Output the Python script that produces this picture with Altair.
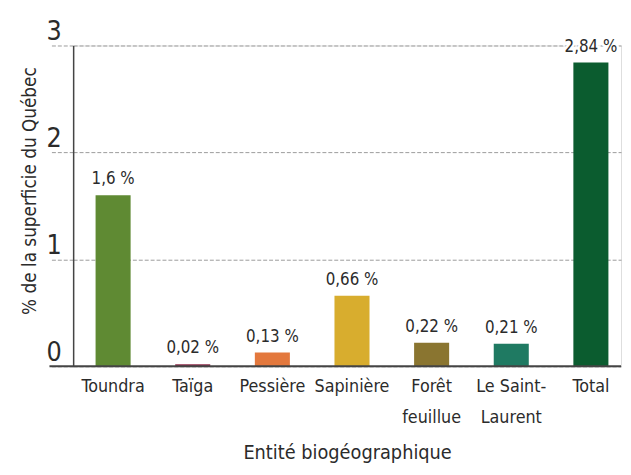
import altair as alt
import pandas as pd

categories = ["Toundra", "Taïga", "Pessière", "Sapinière", "Forêt|feuillue", "Le Saint-|Laurent", "Total"]
values = [1.6, 0.02, 0.13, 0.66, 0.22, 0.21, 2.84]
colors = ["#5f8a33", "#8c2a48", "#e3783d", "#d8ad2e", "#8a7530", "#1f7a62", "#0b5c2f"]
y_ticks = [0, 1, 2, 3]

df = pd.DataFrame({"cat": categories, "val": values, "color": colors})
df["label"] = [str(v).replace(".", ",") + " %" for v in values]

FONT = "'Liberation Sans Narrow', 'Arial Narrow', 'DejaVu Sans Condensed', sans-serif"
TXT = "#2b2b2b"

x_enc = alt.X(
    "cat:N",
    sort=categories,
    scale=alt.Scale(paddingInner=0.56, paddingOuter=0.22, align=0.64),
    axis=alt.Axis(
        title="Entité biogéographique",
        labelExpr="split(datum.label, '|')",
        labelAngle=0,
        labelFont=FONT,
        labelFontSize=18,
        labelColor=TXT,
        labelPadding=12,
        labelLineHeight=31,
        ticks=False,
        domain=False,
        titleFont=FONT,
        titleFontSize=20,
        titleFontWeight="normal",
        titleColor=TXT,
        titleY=93,
        titleBaseline="alphabetic",
    ),
)

y_enc = alt.Y(
    "val:Q",
    scale=alt.Scale(domain=[0, 3], nice=False),
    axis=alt.Axis(
        values=y_ticks,
        format="d",
        title="% de la superficie du Québec",
        titleFont=FONT,
        titleFontSize=19,
        titleFontWeight="normal",
        titleColor=TXT,
        titleX=-44,
        titleY=147,
        titleBaseline="middle",
        labelFont=FONT,
        labelFontSize=27,
        labelColor=TXT,
        labelBaseline="alphabetic",
        labelOffset=-6,
        labelPadding=-12,
        tickSize=24,
        tickDash=[4, 2],
        tickColor="#9a9a9a",
        tickWidth=1,
        grid=True,
        gridDash=[4, 2],
        gridColor="#9a9a9a",
        gridWidth=1,
        domainColor="#444444",
        domainWidth=1.5,
    ),
)

base = alt.Chart(df)

bars = base.mark_bar().encode(
    x=x_enc,
    y=y_enc,
    color=alt.Color("color:N", scale=None),
)

halo = base.mark_text(
    dy=-11, baseline="alphabetic", font=FONT, fontSize=17,
    stroke="white", strokeWidth=5, color="white",
).encode(x=alt.X("cat:N", sort=categories), y="val:Q", text="label:N")

labels = base.mark_text(
    dy=-11, baseline="alphabetic", font=FONT, fontSize=17, color=TXT,
).encode(x=alt.X("cat:N", sort=categories), y="val:Q", text="label:N")

baseline = alt.Chart(pd.DataFrame({"z": [0]})).mark_rule(
    color="#444444", strokeWidth=2
).encode(y="z:Q", x=alt.value(-24), x2=alt.value(555))

chart = alt.layer(bars, halo, labels, baseline).properties(
    width=555,
    height=325,
    autosize=alt.AutoSizeParams(type="none"),
    padding={"left": 66, "top": 35, "right": 2, "bottom": 100},
).configure_view(stroke=None).configure(background="white")

chart.save("out.html", embed_options={"renderer": "svg", "actions": False})
